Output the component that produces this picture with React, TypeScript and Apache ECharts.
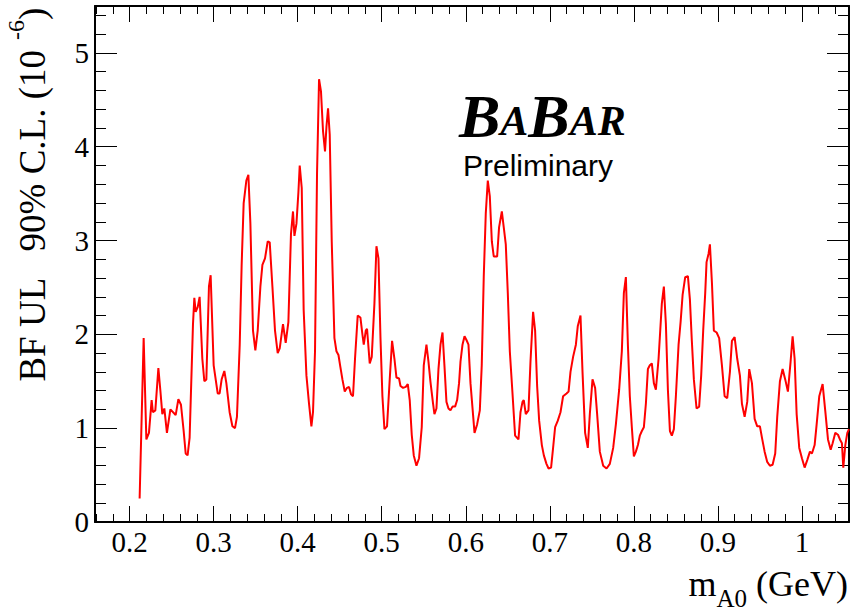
import React, { useEffect, useRef } from "react";
import * as echarts from "echarts";

// m_A0 (GeV)
const masses = [
  0.2119, 0.2167, 0.2199, 0.2230, 0.2262, 0.2277, 0.2306, 0.2342, 0.2365, 0.2389,
  0.2413, 0.2444, 0.2485, 0.2548, 0.2580, 0.2611, 0.2643, 0.2667, 0.2690, 0.2714,
  0.2754, 0.2770, 0.2786, 0.2810, 0.2833, 0.2865, 0.2889, 0.2913, 0.2944, 0.2964,
  0.3000, 0.3048, 0.3071, 0.3095, 0.3127, 0.3151, 0.3190, 0.3223, 0.3254, 0.3277,
  0.3310, 0.3333, 0.3357, 0.3389, 0.3413, 0.3437, 0.3468, 0.3496, 0.3524, 0.3556,
  0.3580, 0.3611, 0.3643, 0.3667, 0.3699, 0.3730, 0.3762, 0.3786, 0.3825, 0.3857,
  0.3889, 0.3920, 0.3944, 0.3961, 0.3985, 0.4008, 0.4024, 0.4048, 0.4071, 0.4104,
  0.4135, 0.4163, 0.4182, 0.4206, 0.4230, 0.4254, 0.4277, 0.4301, 0.4325, 0.4342,
  0.4361, 0.4381, 0.4405, 0.4437, 0.4461, 0.4485, 0.4508, 0.4532, 0.4560, 0.4587,
  0.4611, 0.4635, 0.4658, 0.4682, 0.4714, 0.4746, 0.4770, 0.4786, 0.4810, 0.4825,
  0.4857, 0.4881, 0.4913, 0.4937, 0.4961, 0.4985, 0.5008, 0.5032, 0.5063, 0.5095,
  0.5123, 0.5151, 0.5175, 0.5206, 0.5223, 0.5254, 0.5286, 0.5310, 0.5333, 0.5357,
  0.5381, 0.5413, 0.5444, 0.5476, 0.5500, 0.5532, 0.5556, 0.5580, 0.5611, 0.5627,
  0.5651, 0.5675, 0.5699, 0.5723, 0.5746, 0.5770, 0.5794, 0.5818, 0.5842, 0.5873,
  0.5897, 0.5920, 0.5937, 0.5961, 0.5985, 0.6008, 0.6032, 0.6056, 0.6104, 0.6135,
  0.6167, 0.6190, 0.6214, 0.6238, 0.6262, 0.6286, 0.6310, 0.6333, 0.6373, 0.6396,
  0.6429, 0.6452, 0.6476, 0.6500, 0.6524, 0.6556, 0.6587, 0.6627, 0.6651, 0.6675,
  0.6690, 0.6714, 0.6746, 0.6770, 0.6801, 0.6825, 0.6849, 0.6873, 0.6905, 0.6929,
  0.6960, 0.6985, 0.7015, 0.7039, 0.7063, 0.7095, 0.7127, 0.7158, 0.7199, 0.7223,
  0.7246, 0.7277, 0.7310, 0.7333, 0.7365, 0.7389, 0.7420, 0.7452, 0.7476, 0.7508,
  0.7539, 0.7563, 0.7595, 0.7635, 0.7675, 0.7714, 0.7754, 0.7786, 0.7825, 0.7857,
  0.7881, 0.7905, 0.7929, 0.7952, 0.7976, 0.8000, 0.8024, 0.8048, 0.8071, 0.8095,
  0.8119, 0.8143, 0.8167, 0.8190, 0.8214, 0.8238, 0.8262, 0.8294, 0.8333, 0.8357,
  0.8381, 0.8405, 0.8429, 0.8452, 0.8476, 0.8500, 0.8532, 0.8556, 0.8580, 0.8611,
  0.8643, 0.8667, 0.8690, 0.8714, 0.8746, 0.8777, 0.8801, 0.8825, 0.8849, 0.8865,
  0.8889, 0.8905, 0.8929, 0.8952, 0.8985, 0.9015, 0.9048, 0.9080, 0.9111, 0.9143,
  0.9167, 0.9199, 0.9230, 0.9262, 0.9286, 0.9318, 0.9349, 0.9373, 0.9405, 0.9437,
  0.9468, 0.9500, 0.9524, 0.9556, 0.9587, 0.9619, 0.9651, 0.9682, 0.9706, 0.9738,
  0.9770, 0.9801, 0.9833, 0.9865, 0.9889, 0.9913, 0.9937, 0.9968, 1.0000, 1.0032,
  1.0063, 1.0095, 1.0119, 1.0151, 1.0175, 1.0206, 1.0246, 1.0277, 1.0310, 1.0342,
  1.0365, 1.0397, 1.0429, 1.0452, 1.0476, 1.0492, 1.0516, 1.0540, 1.0560,
];

// BF upper limit at 90% C.L. (10^-6)
const limits = [
  0.25, 1.96, 0.88, 0.95, 1.30, 1.17, 1.19, 1.64, 1.41, 1.15,
  1.21, 0.95, 1.20, 1.14, 1.31, 1.25, 0.97, 0.73, 0.71, 0.90,
  2.11, 2.39, 2.24, 2.29, 2.40, 1.74, 1.50, 1.52, 2.51, 2.63,
  1.67, 1.37, 1.37, 1.52, 1.61, 1.48, 1.17, 1.02, 1.00, 1.12,
  1.89, 2.74, 3.40, 3.64, 3.70, 3.18, 2.04, 1.83, 2.04, 2.51,
  2.74, 2.81, 2.99, 2.98, 2.51, 2.04, 1.80, 1.85, 2.11, 1.91,
  2.13, 3.07, 3.31, 3.05, 3.18, 3.51, 3.80, 3.56, 2.26, 1.56,
  1.26, 1.02, 1.17, 1.82, 3.72, 4.72, 4.59, 4.17, 3.95, 4.21,
  4.41, 4.13, 2.99, 1.96, 1.82, 1.78, 1.65, 1.52, 1.39, 1.43,
  1.44, 1.36, 1.34, 1.74, 2.20, 2.18, 2.00, 1.89, 2.04, 2.06,
  1.69, 1.76, 2.33, 2.94, 2.81, 1.96, 1.34, 0.99, 1.02, 1.52,
  1.93, 1.74, 1.54, 1.53, 1.45, 1.43, 1.44, 1.47, 1.30, 0.93,
  0.71, 0.60, 0.68, 1.01, 1.67, 1.89, 1.71, 1.49, 1.26, 1.15,
  1.21, 1.63, 1.89, 2.02, 1.67, 1.28, 1.21, 1.19, 1.23, 1.23,
  1.30, 1.48, 1.71, 1.89, 1.98, 1.94, 1.89, 1.48, 0.95, 1.04,
  1.19, 1.67, 2.62, 3.29, 3.64, 3.47, 2.99, 2.83, 2.83, 3.14,
  3.31, 3.14, 2.96, 2.44, 1.82, 1.37, 0.92, 0.88, 1.17, 1.28,
  1.30, 1.15, 1.19, 1.71, 2.24, 2.04, 1.45, 1.08, 0.82, 0.71,
  0.62, 0.57, 0.58, 0.79, 1.01, 1.08, 1.17, 1.34, 1.37, 1.39,
  1.60, 1.76, 1.89, 2.09, 2.20, 1.60, 0.95, 0.79, 1.15, 1.52,
  1.43, 1.15, 0.75, 0.60, 0.57, 0.62, 0.79, 1.04, 1.41, 1.82,
  2.44, 2.61, 1.89, 1.34, 1.01, 0.70, 0.75, 0.82, 0.92, 0.97,
  1.01, 1.26, 1.63, 1.67, 1.69, 1.48, 1.41, 1.74, 2.33, 2.51,
  2.11, 1.41, 0.97, 0.92, 0.99, 1.34, 1.89, 2.13, 2.42, 2.61,
  2.62, 2.37, 1.93, 1.52, 1.21, 1.23, 1.56, 2.04, 2.44, 2.77,
  2.86, 2.96, 2.55, 2.04, 2.02, 1.96, 1.67, 1.34, 1.32, 1.60,
  1.93, 1.97, 1.74, 1.56, 1.26, 1.12, 1.28, 1.63, 1.48, 1.10,
  1.02, 1.02, 0.90, 0.75, 0.64, 0.60, 0.61, 0.73, 1.12, 1.50,
  1.63, 1.52, 1.39, 1.71, 1.98, 1.74, 1.15, 0.79, 0.68, 0.58,
  0.66, 0.75, 0.73, 0.82, 1.04, 1.34, 1.47, 1.19, 0.88, 0.77,
  0.84, 0.95, 0.93, 0.88, 0.84, 0.58, 0.82, 0.95, 0.99,
];

const xMajorTicks = [0.2, 0.3, 0.4, 0.5, 0.6, 0.7, 0.8, 0.9, 1.0];
const xMinorTicks = [
  0.16, 0.18, 0.22, 0.24, 0.26, 0.28, 0.32, 0.34, 0.36, 0.38, 0.42, 0.44, 0.46, 0.48,
  0.52, 0.54, 0.56, 0.58, 0.62, 0.64, 0.66, 0.68, 0.72, 0.74, 0.76, 0.78, 0.82, 0.84,
  0.86, 0.88, 0.92, 0.94, 0.96, 0.98, 1.02, 1.04,
];
const yMajorTicks = [0, 1, 2, 3, 4, 5];
const yMinorTicks = [
  0.2, 0.4, 0.6, 0.8, 1.2, 1.4, 1.6, 1.8, 2.2, 2.4, 2.6, 2.8, 3.2, 3.4, 3.6, 3.8,
  4.2, 4.4, 4.6, 4.8, 5.2, 5.4,
];

const X_MIN = 0.1588;
const X_MAX = 1.056;
const Y_MIN = 0;
const Y_MAX = 5.5;

const SERIF = "'Liberation Serif', 'Times New Roman', serif";
const SANS = "'Liberation Sans', Arial, sans-serif";

export default function App() {
  const ref = useRef<HTMLDivElement>(null);

  useEffect(() => {
    if (!ref.current) return;
    const chart = echarts.init(ref.current, undefined, { renderer: "svg" });

    const lineStyle = { color: "#000", width: 2 };
    const gridRect = { left: 95, right: 6, top: 6, bottom: 89 };

    const xAxisBase = (
      gridIndex: number,
      position: "bottom" | "top",
      ticks: number[],
      len: number,
      showLine: boolean,
      showLabels: boolean
    ) => ({
      type: "value",
      gridIndex,
      position,
      min: X_MIN,
      max: X_MAX,
      splitLine: { show: false },
      axisLine: { show: showLine, onZero: false, lineStyle },
      axisTick: {
        show: true,
        inside: true,
        length: len,
        customValues: ticks,
        lineStyle: { color: "#000", width: 1 },
      },
      axisLabel: {
        show: showLabels,
        customValues: ticks,
        margin: 5,
        fontFamily: SERIF,
        fontSize: 29,
        color: "#000",
        formatter: (v: number) => String(+v.toFixed(2)),
      },
    });

    const yAxisBase = (
      gridIndex: number,
      position: "left" | "right",
      ticks: number[],
      len: number,
      showLine: boolean,
      showLabels: boolean
    ) => ({
      type: "value",
      gridIndex,
      position,
      min: Y_MIN,
      max: Y_MAX,
      splitLine: { show: false },
      axisLine: { show: showLine, onZero: false, lineStyle },
      axisTick: {
        show: true,
        inside: true,
        length: len,
        customValues: ticks,
        lineStyle: { color: "#000", width: 1 },
      },
      axisLabel: {
        show: showLabels,
        customValues: ticks,
        margin: 6,
        fontFamily: SERIF,
        fontSize: 29,
        color: "#000",
        formatter: (v: number) => String(+v.toFixed(2)),
      },
    });

    chart.setOption({
      animation: false,
      backgroundColor: "#fff",
      grid: [
        { ...gridRect, containLabel: false },
        { ...gridRect, containLabel: false },
      ],
      xAxis: [
        xAxisBase(0, "bottom", xMajorTicks, 16, true, true),
        xAxisBase(0, "top", xMajorTicks, 16, true, false),
        xAxisBase(1, "bottom", xMinorTicks, 8, false, false),
        xAxisBase(1, "top", xMinorTicks, 8, false, false),
      ],
      yAxis: [
        yAxisBase(0, "left", yMajorTicks, 22, true, true),
        yAxisBase(0, "right", yMajorTicks, 22, true, false),
        yAxisBase(1, "left", yMinorTicks, 11, false, false),
        yAxisBase(1, "right", yMinorTicks, 11, false, false),
      ],
      series: [
        {
          type: "line",
          xAxisIndex: 0,
          yAxisIndex: 0,
          data: masses.map((m, i) => [m, limits[i]]),
          showSymbol: false,
          symbol: "none",
          lineStyle: { color: "#ff0000", width: 2 },
          clip: true,
        },
      ],
      graphic: [
        {
          type: "text",
          x: 27,
          y: 195,
          rotation: Math.PI / 2,
          style: {
            text: "{t|BF UL   90% C.L. (10 }{sup|-6}{t|)}",
            fill: "#000",
            align: "center",
            verticalAlign: "middle",
            rich: {
              t: {
                fontFamily: SERIF,
                fontSize: 37,
                verticalAlign: "bottom",
                padding: [10, 0, 0, 0],
              },
              sup: {
                fontFamily: SERIF,
                fontSize: 24,
                verticalAlign: "top",
              },
            },
          },
        },
        {
          type: "text",
          x: 848,
          y: 611,
          style: {
            text: "{m|m}{sub|A0}{m| (GeV)}",
            fill: "#000",
            align: "right",
            verticalAlign: "bottom",
            rich: {
              m: {
                fontFamily: SERIF,
                fontSize: 36,
                verticalAlign: "bottom",
                padding: [0, 0, 9, 0],
              },
              sub: {
                fontFamily: SERIF,
                fontSize: 25,
                verticalAlign: "bottom",
              },
            },
          },
        },
        {
          type: "text",
          x: 459,
          y: 147,
          style: {
            text: "{big|B}{small|A}{big|B}{small|AR}",
            fill: "#000",
            align: "left",
            verticalAlign: "bottom",
            rich: {
              big: {
                fontFamily: SERIF,
                fontWeight: "bold",
                fontStyle: "italic",
                fontSize: 62,
                lineHeight: 46,
                verticalAlign: "bottom",
              },
              small: {
                fontFamily: SERIF,
                fontWeight: "bold",
                fontStyle: "italic",
                fontSize: 42,
                lineHeight: 32,
                verticalAlign: "bottom",
                padding: [0, 0, 5, 0],
              },
            },
          },
        },
        {
          type: "text",
          x: 463,
          y: 153,
          style: {
            text: "Preliminary",
            fontFamily: SANS,
            fontSize: 30,
            lineHeight: 24,
            fill: "#000",
            align: "left",
            verticalAlign: "top",
          },
        },
      ],
    });

    return () => chart.dispose();
  }, []);

  return <div ref={ref} style={{ width: 855, height: 611, position: "absolute", left: 0, top: 0 }} />;
}
